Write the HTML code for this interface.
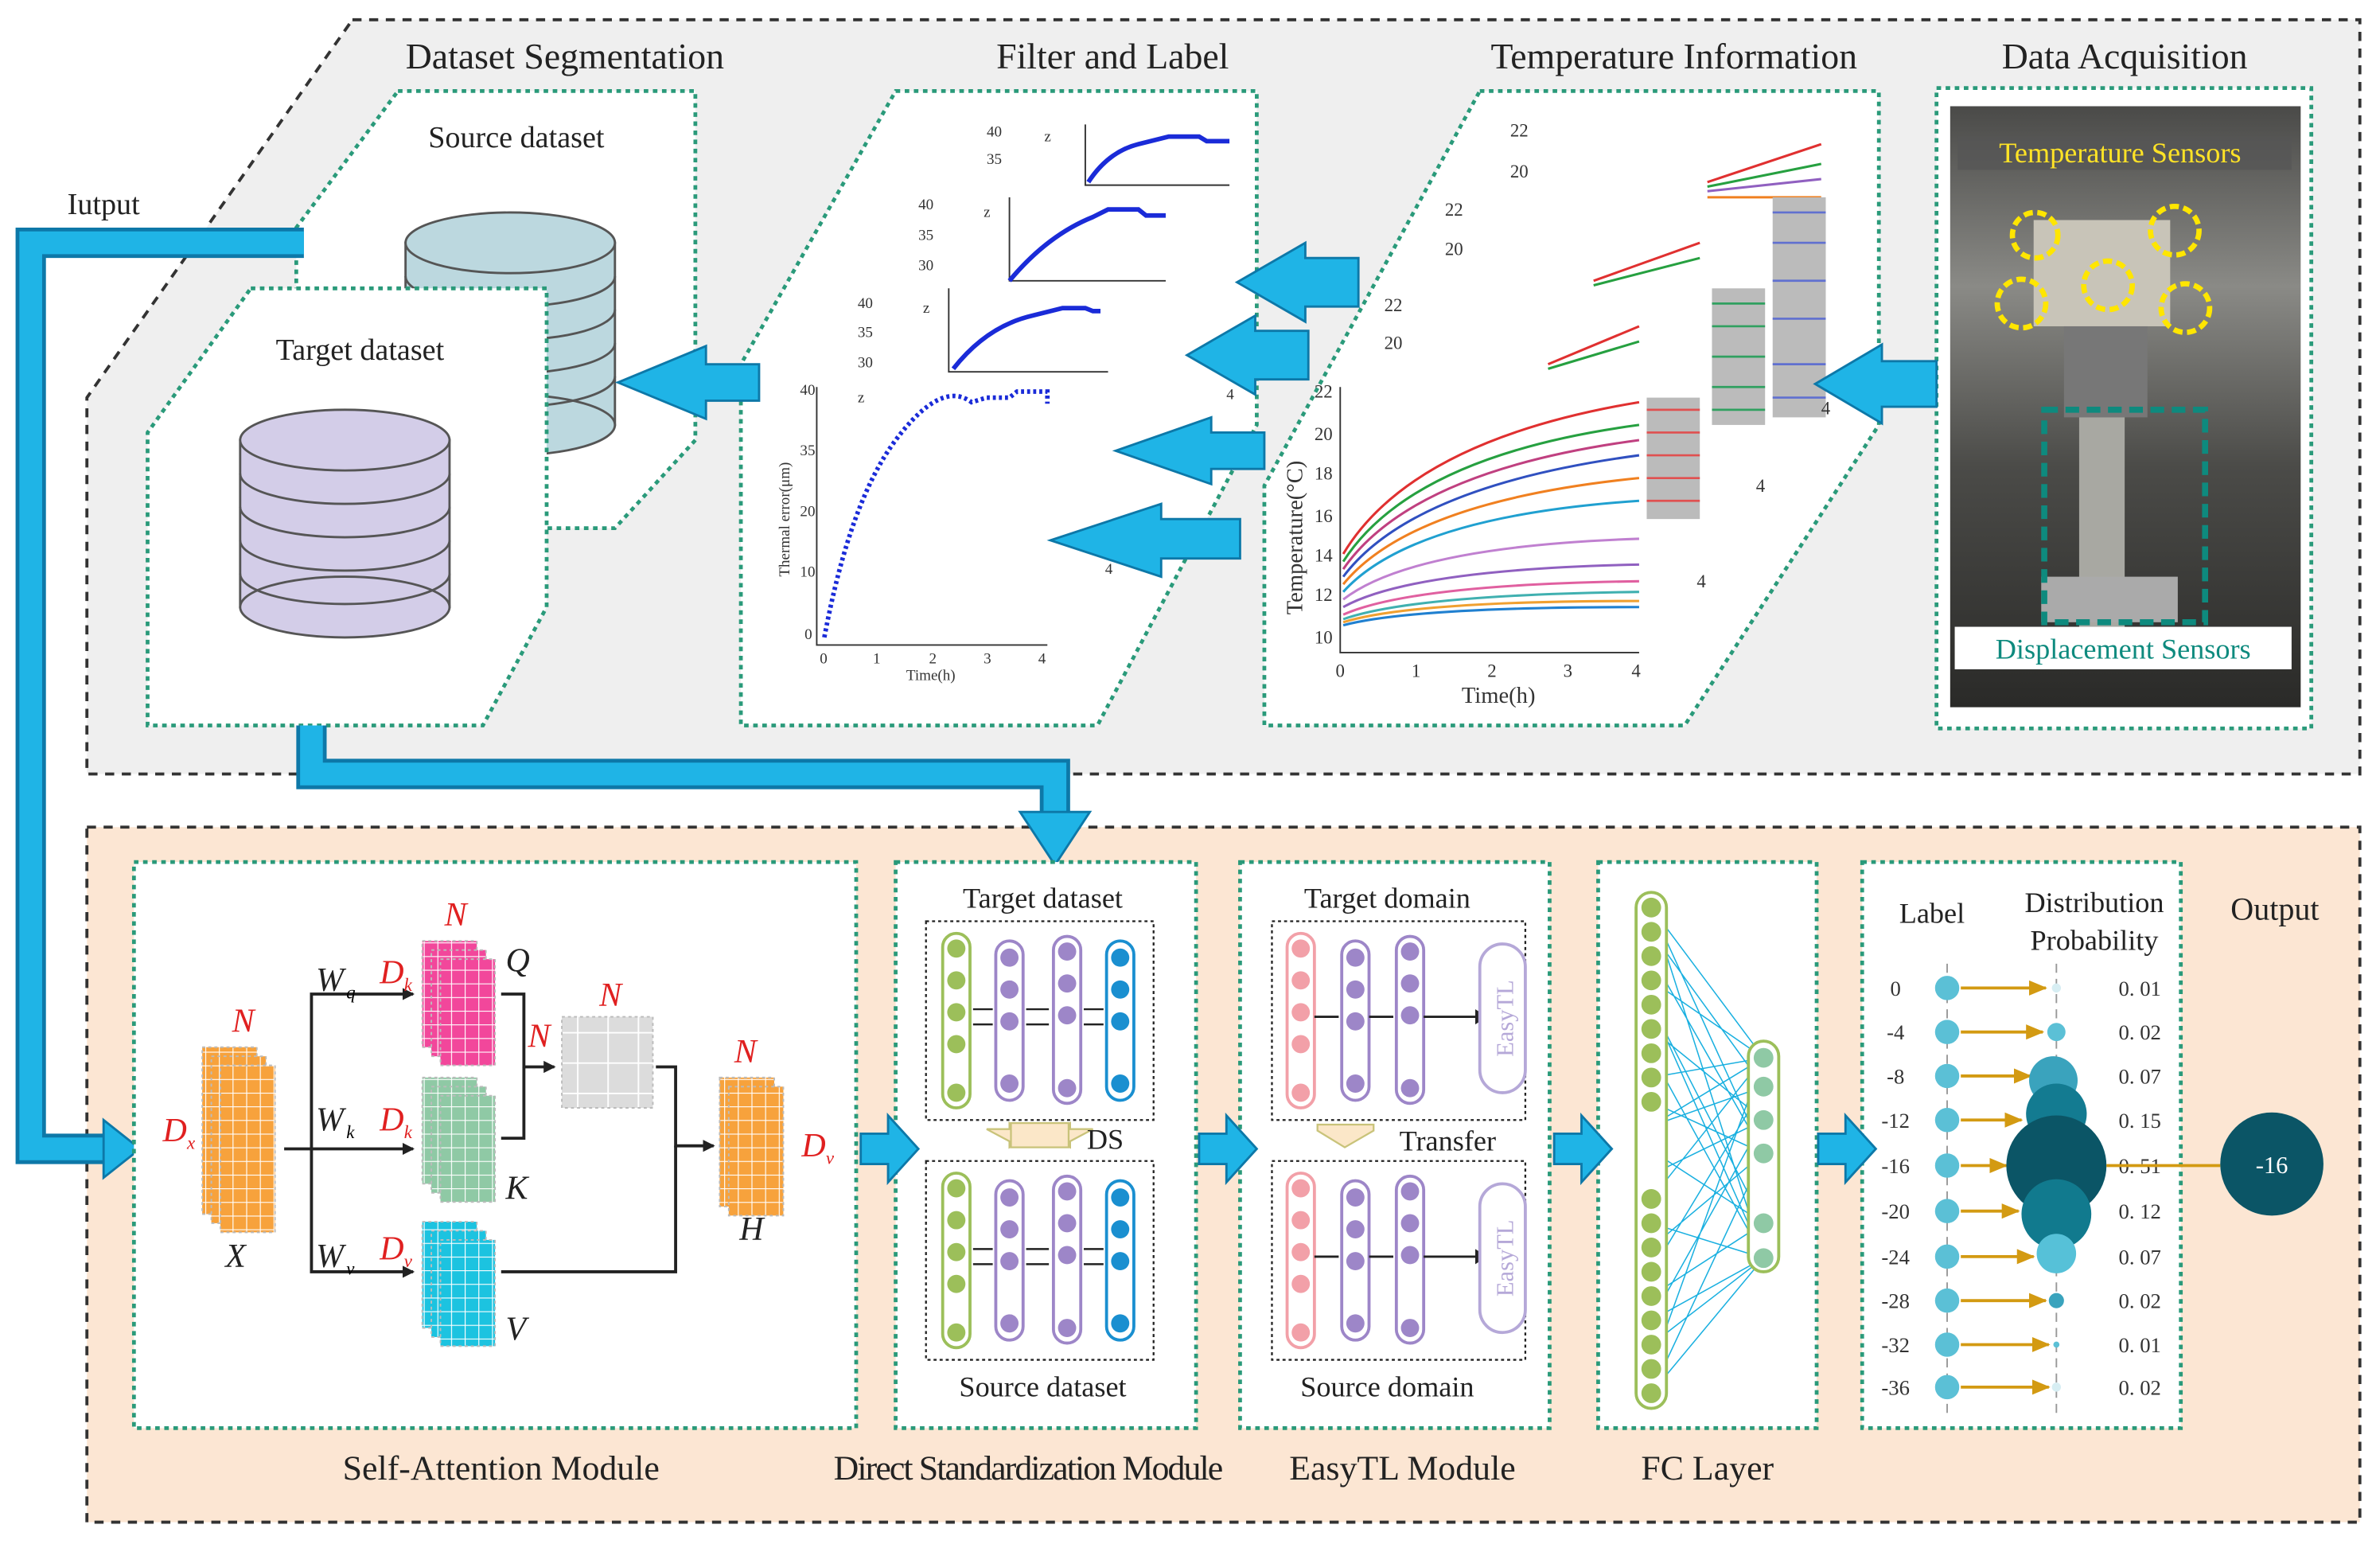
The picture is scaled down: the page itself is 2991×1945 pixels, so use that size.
<!DOCTYPE html>
<html><head><meta charset="utf-8"><style>
html,body{margin:0;padding:0;background:#fff}
svg{display:block;font-family:"Liberation Serif","DejaVu Serif",serif}
svg text{font-family:"Liberation Serif","DejaVu Serif",serif}
</style></head><body>
<svg width="2991" height="1945" viewBox="0 0 1568 1020" xmlns="http://www.w3.org/2000/svg" font-family="Liberation Serif, DejaVu Serif, serif">
<defs>
<pattern id="po" width="9" height="9" patternUnits="userSpaceOnUse"><rect width="9" height="9" fill="#f7a23c"/><path d="M0 0H9M0 0V9" stroke="#fff" stroke-width="1.2"/></pattern>
<pattern id="pp" width="9" height="9" patternUnits="userSpaceOnUse"><rect width="9" height="9" fill="#f2479b"/><path d="M0 0H9M0 0V9" stroke="#fff" stroke-width="1.2"/></pattern>
<pattern id="pg" width="9" height="9" patternUnits="userSpaceOnUse"><rect width="9" height="9" fill="#8fc9a5"/><path d="M0 0H9M0 0V9" stroke="#fff" stroke-width="1.2"/></pattern>
<pattern id="pc" width="9" height="9" patternUnits="userSpaceOnUse"><rect width="9" height="9" fill="#1cc3e0"/><path d="M0 0H9M0 0V9" stroke="#fff" stroke-width="1.2"/></pattern>
<pattern id="pw" width="20" height="20" patternUnits="userSpaceOnUse"><rect width="20" height="20" fill="#dcdcdc"/><path d="M0 0H20M0 0V20" stroke="#fff" stroke-width="2"/></pattern>
<marker id="ah" markerWidth="8" markerHeight="8" refX="7" refY="4" orient="auto" markerUnits="userSpaceOnUse"><path d="M0 0L8 4L0 8z" fill="#222"/></marker>
<marker id="ao" markerWidth="12" markerHeight="10" refX="11" refY="5" orient="auto" markerUnits="userSpaceOnUse"><path d="M0 0L12 5L0 10z" fill="#d39a12"/></marker>
<linearGradient id="ph" x1="0" y1="0" x2="0" y2="1"><stop offset="0" stop-color="#4a4a48"/><stop offset=".3" stop-color="#8a8a86"/><stop offset=".6" stop-color="#4b4b48"/><stop offset="1" stop-color="#2a2a28"/></linearGradient>
</defs>

<path d="M232 13H1555V510H57V262Z" fill="#efefef" stroke="#333" stroke-width="2" stroke-dasharray="6 5"/>
<rect x="57" y="545" width="1498" height="458" fill="#fce6d3" stroke="#333" stroke-width="2" stroke-dasharray="6 5"/>

<text x="372" y="45" font-size="24" text-anchor="middle" fill="#222">Dataset Segmentation</text>
<text x="733" y="45" font-size="24" text-anchor="middle" fill="#222">Filter and Label</text>
<text x="1103" y="45" font-size="24" text-anchor="middle" fill="#222">Temperature Information</text>
<text x="1400" y="45" font-size="24" text-anchor="middle" fill="#222">Data Acquisition</text>
<text x="68" y="141" font-size="20" text-anchor="middle" fill="#222">Iutput</text>

<path d="M262 60H458V290L405 348H195V150Z" fill="#fff" stroke="#2a9a7a" stroke-width="2.5" stroke-dasharray="3 3"/>
<text x="340" y="97" font-size="20" text-anchor="middle" fill="#222">Source dataset</text>
<g fill="#bcd8df" stroke="#555" stroke-width="1.5">
<rect x="267" y="160" width="138" height="120"/>
<ellipse cx="336" cy="280" rx="69" ry="20"/>
<path d="M267 182a69 20 0 0 0 138 0M267 204a69 20 0 0 0 138 0M267 226a69 20 0 0 0 138 0M267 248a69 20 0 0 0 138 0" fill="none"/>
<ellipse cx="336" cy="160" rx="69" ry="20"/>
</g>
<path d="M165 190H360V400L318 478H97V285Z" fill="#fff" stroke="#2a9a7a" stroke-width="2.5" stroke-dasharray="3 3"/>
<text x="237" y="237" font-size="20" text-anchor="middle" fill="#222">Target dataset</text>
<g fill="#d3cde8" stroke="#555" stroke-width="1.5">
<rect x="158" y="290" width="138" height="110"/>
<ellipse cx="227" cy="400" rx="69" ry="20"/>
<path d="M158 312a69 20 0 0 0 138 0M158 334a69 20 0 0 0 138 0M158 356a69 20 0 0 0 138 0M158 378a69 20 0 0 0 138 0" fill="none"/>
<ellipse cx="227" cy="290" rx="69" ry="20"/>
</g>

<path d="M590 60H828V280L723 478H488V240Z" fill="#fff" stroke="#2a9a7a" stroke-width="2.5" stroke-dasharray="3 3"/>
<g stroke="#333" fill="none" stroke-width="1">
<path d="M538 255V425H690"/>
<path d="M625 190V245H730"/>
<path d="M665 130V185H768"/>
<path d="M715 82V122H810"/>
</g>
<path d="M543 420Q560 330 590 290T640 265L650 262 665 262 670 258 690 258 690 266" fill="none" stroke="#1a2bd8" stroke-width="3" stroke-dasharray="2 2"/>
<path d="M628 243Q650 215 680 208L700 203 715 203 720 205 725 205" fill="none" stroke="#1a2bd8" stroke-width="3"/>
<path d="M665 185Q690 155 720 143L730 138 750 138 755 142 768 142" fill="none" stroke="#1a2bd8" stroke-width="3"/>
<path d="M717 120Q730 100 750 95L770 90 790 90 795 93 810 93" fill="none" stroke="#1a2bd8" stroke-width="3"/>
<g font-size="10" fill="#333">
<text x="527" y="260">40</text><text x="527" y="300">35</text><text x="527" y="340">20</text><text x="527" y="380">10</text><text x="530" y="421">0</text>
<text x="540" y="437">0</text><text x="575" y="437">1</text><text x="612" y="437">2</text><text x="648" y="437">3</text><text x="684" y="437">4</text>
<text x="597" y="448">Time(h)</text>
<text x="520" y="380" transform="rotate(-90 520 380)">Thermal error(μm)</text>
<text x="565" y="265">z</text><text x="608" y="206">z</text><text x="648" y="143">z</text><text x="688" y="93">z</text>
<text x="650" y="90">40</text><text x="650" y="108">35</text><text x="605" y="138">40</text><text x="605" y="158">35</text><text x="605" y="178">30</text>
<text x="565" y="203">40</text><text x="565" y="222">35</text><text x="565" y="242">30</text>
<text x="728" y="378">4</text><text x="808" y="263">4</text>
</g>

<path d="M975 60H1238V280L1110 478H833V320Z" fill="#fff" stroke="#2a9a7a" stroke-width="2.5" stroke-dasharray="3 3"/>
<g stroke="#333" fill="none" stroke-width="1">
<path d="M883 255V430H1080"/>
</g>
<g fill="none" stroke-width="1.6">
<path d="M885 365Q930 290 1080 265" stroke="#e03030"/>
<path d="M885 370Q930 300 1080 280" stroke="#26a040"/>
<path d="M885 375Q930 310 1080 290" stroke="#c04080"/>
<path d="M885 380Q930 320 1080 300" stroke="#3050c0"/>
<path d="M885 385Q930 330 1080 315" stroke="#f08020"/>
<path d="M885 390Q930 340 1080 330" stroke="#20a0d0"/>
<path d="M885 395Q930 360 1080 355" stroke="#c080d0"/>
<path d="M885 400Q930 375 1080 372" stroke="#9060c0"/>
<path d="M885 405Q930 385 1080 383" stroke="#e060a0"/>
<path d="M885 408Q930 392 1080 390" stroke="#40b0b0"/>
<path d="M885 410Q930 396 1080 396" stroke="#f0a030"/>
<path d="M885 412Q930 400 1080 400" stroke="#2080d0"/>
<path d="M1020 240L1080 215" stroke="#e03030"/><path d="M1020 243L1080 225" stroke="#26a040"/>
<path d="M1050 185L1120 160" stroke="#e03030"/><path d="M1050 188L1120 170" stroke="#26a040"/>
<path d="M1125 120L1200 95" stroke="#e03030"/><path d="M1125 123L1200 108" stroke="#26a040"/><path d="M1125 126L1200 118" stroke="#9060c0"/><path d="M1125 130L1200 130" stroke="#f08020"/>
</g>
<g fill="#bbb"><rect x="1085" y="262" width="35" height="80"/><rect x="1128" y="190" width="35" height="90"/><rect x="1168" y="130" width="35" height="145"/></g>
<g fill="none" stroke-width="1.4">
<path d="M1085 270H1120M1085 285H1120M1085 300H1120M1085 315H1120M1085 330H1120" stroke="#e05050"/>
<path d="M1128 200H1163M1128 215H1163M1128 235H1163M1128 255H1163M1128 270H1163" stroke="#30a060"/>
<path d="M1168 140H1203M1168 160H1203M1168 185H1203M1168 210H1203M1168 240H1203M1168 262H1203" stroke="#6070d0"/>
</g>
<g font-size="12" fill="#333">
<text x="866" y="262">22</text><text x="866" y="290">20</text><text x="866" y="316">18</text><text x="866" y="344">16</text><text x="866" y="370">14</text><text x="866" y="396">12</text><text x="866" y="424">10</text>
<text x="880" y="446">0</text><text x="930" y="446">1</text><text x="980" y="446">2</text><text x="1030" y="446">3</text><text x="1075" y="446">4</text>
<text x="963" y="463" font-size="15">Time(h)</text>
<text x="858" y="405" font-size="15" transform="rotate(-90 858 405)">Temperature(°C)</text>
<text x="912" y="205">22</text><text x="912" y="230">20</text><text x="952" y="142">22</text><text x="952" y="168">20</text><text x="995" y="90">22</text><text x="995" y="117">20</text>
<text x="1118" y="387">4</text><text x="1157" y="324">4</text><text x="1200" y="273">4</text>
</g>

<rect x="1276" y="58" width="247" height="422" fill="#fff" stroke="#2a9a7a" stroke-width="2.5" stroke-dasharray="3 3"/>
<rect x="1285" y="70" width="231" height="396" fill="url(#ph)"/>
<rect x="1340" y="145" width="90" height="70" fill="#c8c4b8"/>
<rect x="1360" y="215" width="55" height="60" fill="#777"/>
<rect x="1370" y="275" width="30" height="140" fill="#a8a8a2"/>
<rect x="1345" y="380" width="90" height="30" fill="#aaa"/>
<rect x="1290" y="90" width="220" height="22" fill="#555" opacity=".7"/>
<text x="1397" y="107" font-size="19" text-anchor="middle" fill="#ffe326">Temperature Sensors</text>
<g fill="none" stroke="#ffe600" stroke-width="3.5" stroke-dasharray="6 3">
<circle cx="1341" cy="155" r="15"/><circle cx="1433" cy="152" r="16"/><circle cx="1389" cy="188" r="16"/><circle cx="1332" cy="200" r="16"/><circle cx="1440" cy="203" r="16"/>
</g>
<rect x="1347" y="270" width="106" height="140" fill="none" stroke="#0e8a7e" stroke-width="4" stroke-dasharray="9 5"/>
<rect x="1288" y="413" width="222" height="28" fill="#fff"/>
<text x="1399" y="434" font-size="19" text-anchor="middle" fill="#0e8a7e">Displacement Sensors</text>

<g fill="#1fb4e6" stroke="#0d78a8" stroke-width="1.5">
<path d="M1276 238H1240V227L1196 253L1240 279V268H1276Z"/>
<path d="M895 170H860V160L815 186L860 212V202H895Z"/>
<path d="M862 218H827V208L782 234L827 260V250H862Z"/>
<path d="M833 285H798V275L735 297L798 319V309H833Z"/>
<path d="M817 342H765V332L692 356L765 380V368H817Z"/>
<path d="M500 240H465V228L407 252L465 276V264H500Z"/>
</g>

<path d="M200 160H20V757H70" fill="none" stroke="#0d78a8" stroke-width="20"/>
<path d="M200 160H20V757H70" fill="none" stroke="#1fb4e6" stroke-width="15"/>
<path d="M68 738L92 757L68 776Z" fill="#1fb4e6" stroke="#0d78a8" stroke-width="1.5"/>
<path d="M205 478V510H695V540" fill="none" stroke="#0d78a8" stroke-width="20"/>
<path d="M205 478V510H695V540" fill="none" stroke="#1fb4e6" stroke-width="15"/>
<path d="M672 535L695 570L718 535Z" fill="#1fb4e6" stroke="#0d78a8" stroke-width="1.5"/>

<g fill="#fff" stroke="#2a9a7a" stroke-width="2.5" stroke-dasharray="3 3">
<rect x="88" y="568" width="476" height="373"/>
<rect x="590" y="568" width="198" height="373"/>
<rect x="817" y="568" width="204" height="373"/>
<rect x="1053" y="568" width="144" height="373"/>
<rect x="1227" y="568" width="210" height="373"/>
</g>
<g font-size="23" fill="#222" text-anchor="middle">
<text x="330" y="975">Self-Attention Module</text>
<text x="677" y="975" letter-spacing="-1">Direct Standardization Module</text>
<text x="924" y="975">EasyTL Module</text>
<text x="1125" y="975">FC Layer</text>
</g>

<g stroke="#bbb" stroke-dasharray="2 2">
<rect x="133" y="690" width="36" height="110" fill="url(#po)"/>
<rect x="139" y="696" width="36" height="110" fill="url(#po)"/>
<rect x="145" y="702" width="36" height="110" fill="url(#po)"/>
<rect x="278" y="620" width="36" height="70" fill="url(#pp)"/>
<rect x="284" y="626" width="36" height="70" fill="url(#pp)"/>
<rect x="290" y="632" width="36" height="70" fill="url(#pp)"/>
<rect x="278" y="710" width="36" height="70" fill="url(#pg)"/>
<rect x="284" y="716" width="36" height="70" fill="url(#pg)"/>
<rect x="290" y="722" width="36" height="70" fill="url(#pg)"/>
<rect x="278" y="805" width="36" height="70" fill="url(#pc)"/>
<rect x="284" y="811" width="36" height="70" fill="url(#pc)"/>
<rect x="290" y="817" width="36" height="70" fill="url(#pc)"/>
<rect x="370" y="670" width="60" height="60" fill="url(#pw)"/>
<rect x="474" y="710" width="36" height="85" fill="url(#po)"/>
<rect x="480" y="716" width="36" height="85" fill="url(#po)"/>
</g>
<g fill="none" stroke="#222" stroke-width="2">
<path d="M187 757H205V655H272" marker-end="url(#ah)"/>
<path d="M205 757H272" marker-end="url(#ah)"/>
<path d="M205 757V838H272" marker-end="url(#ah)"/>
<path d="M330 655H345V703H365" marker-end="url(#ah)"/>
<path d="M330 750H345V703"/>
<path d="M432 703H445V755H470" marker-end="url(#ah)"/>
<path d="M330 838H445V755"/>
</g>
<g font-style="italic" font-size="22">
<text x="160" y="680" fill="#e02020" text-anchor="middle">N</text>
<text x="107" y="752" fill="#e02020">D</text><text x="123" y="757" fill="#e02020" font-size="12">x</text>
<text x="155" y="835" text-anchor="middle" fill="#222">X</text>
<text x="300" y="610" fill="#e02020" text-anchor="middle">N</text>
<text x="250" y="648" fill="#e02020">D</text><text x="266" y="653" fill="#e02020" font-size="12">k</text>
<text x="333" y="640" fill="#222">Q</text>
<text x="208" y="653" fill="#222">W</text><text x="228" y="658" font-size="12">q</text>
<text x="250" y="745" fill="#e02020">D</text><text x="266" y="750" fill="#e02020" font-size="12">k</text>
<text x="208" y="745" fill="#222">W</text><text x="228" y="750" font-size="12">k</text>
<text x="333" y="790" fill="#222">K</text>
<text x="250" y="830" fill="#e02020">D</text><text x="266" y="835" fill="#e02020" font-size="12">v</text>
<text x="208" y="835" fill="#222">W</text><text x="228" y="840" font-size="12">v</text>
<text x="333" y="883" fill="#222">V</text>
<text x="355" y="690" fill="#e02020" text-anchor="middle">N</text>
<text x="402" y="663" fill="#e02020" text-anchor="middle">N</text>
<text x="491" y="700" fill="#e02020" text-anchor="middle">N</text>
<text x="528" y="762" fill="#e02020">D</text><text x="544" y="767" fill="#e02020" font-size="12">v</text>
<text x="495" y="817" fill="#222" text-anchor="middle">H</text>
</g>

<g fill="#1fb4e6" stroke="#0d78a8" stroke-width="1.5">
<path d="M567 747H585V735L605 757L585 779V767H567Z"/>
<path d="M790 747H808V735L828 757L808 779V767H790Z"/>
<path d="M1024 747H1042V735L1062 757L1042 779V767H1024Z"/>
<path d="M1198 747H1216V735L1236 757L1216 779V767H1198Z"/>
</g>

<text x="687" y="598" font-size="19" text-anchor="middle" fill="#222">Target dataset</text>
<text x="687" y="920" font-size="19" text-anchor="middle" fill="#222">Source dataset</text>
<g fill="none" stroke="#222" stroke-width="1.2" stroke-dasharray="2 2">
<rect x="610" y="607" width="150" height="131"/><rect x="610" y="765" width="150" height="131"/>
<rect x="838" y="607" width="167" height="131"/><rect x="838" y="765" width="167" height="131"/>
</g>
<g id="dscols">
<rect x="621" y="615" width="18" height="115" rx="9" fill="#fff" stroke="#9cbf5a" stroke-width="2"/>
<rect x="656" y="620" width="18" height="105" rx="9" fill="#fff" stroke="#9d86c8" stroke-width="2"/>
<rect x="694" y="617" width="18" height="110" rx="9" fill="#fff" stroke="#9d86c8" stroke-width="2"/>
<rect x="729" y="620" width="18" height="105" rx="9" fill="#fff" stroke="#1a8fd0" stroke-width="2"/>
<g fill="#9cbf5a"><circle cx="630" cy="625" r="6"/><circle cx="630" cy="646" r="6"/><circle cx="630" cy="667" r="6"/><circle cx="630" cy="688" r="6"/><circle cx="630" cy="720" r="6"/></g>
<g fill="#9d86c8"><circle cx="665" cy="631" r="6"/><circle cx="665" cy="652" r="6"/><circle cx="665" cy="673" r="6"/><circle cx="665" cy="714" r="6"/><circle cx="703" cy="627" r="6"/><circle cx="703" cy="648" r="6"/><circle cx="703" cy="669" r="6"/><circle cx="703" cy="717" r="6"/></g>
<g fill="#1a8fd0"><circle cx="738" cy="631" r="6"/><circle cx="738" cy="652" r="6"/><circle cx="738" cy="673" r="6"/><circle cx="738" cy="714" r="6"/></g>
<g stroke="#222" stroke-width="1.3"><path d="M641 665H654M654 675H641M676 665H691M691 675H676M714 665H727M727 675H714"/></g>
</g>
<use href="#dscols" y="158"/>
<path d="M650 744H665V740L680 748L665 756V752Z M720 744H705V740L690 748L705 756V752Z" fill="#fbe7c8" stroke="#c9c37a" stroke-width="1.2"/>
<rect x="666" y="740" width="38" height="16" fill="#fbe7c8" stroke="#c9c37a" stroke-width="1.2"/>
<text x="716" y="757" font-size="19" fill="#222">DS</text>

<text x="914" y="598" font-size="19" text-anchor="middle" fill="#222">Target domain</text>
<text x="914" y="920" font-size="19" text-anchor="middle" fill="#222">Source domain</text>
<g id="etl">
<rect x="848" y="615" width="18" height="115" rx="9" fill="#fff" stroke="#f2a0a8" stroke-width="2"/>
<rect x="884" y="620" width="18" height="105" rx="9" fill="#fff" stroke="#9d86c8" stroke-width="2"/>
<rect x="920" y="617" width="18" height="110" rx="9" fill="#fff" stroke="#9d86c8" stroke-width="2"/>
<g fill="#f2a0a8"><circle cx="857" cy="625" r="6"/><circle cx="857" cy="646" r="6"/><circle cx="857" cy="667" r="6"/><circle cx="857" cy="688" r="6"/><circle cx="857" cy="720" r="6"/></g>
<g fill="#9d86c8"><circle cx="893" cy="631" r="6"/><circle cx="893" cy="652" r="6"/><circle cx="893" cy="673" r="6"/><circle cx="893" cy="714" r="6"/><circle cx="929" cy="627" r="6"/><circle cx="929" cy="648" r="6"/><circle cx="929" cy="669" r="6"/><circle cx="929" cy="717" r="6"/></g>
<path d="M866 670H882M902 670H918M938 670H972" stroke="#222" stroke-width="1.5"/>
<path d="M972 665L980 670L972 675Z" fill="#222"/>
<rect x="975" y="622" width="30" height="98" rx="15" fill="#fff" stroke="#b5a8d8" stroke-width="2"/>
<text x="997" y="671" font-size="16" fill="#b5a8d8" text-anchor="middle" transform="rotate(-90 997 671)">EasyTL</text>
</g>
<use href="#etl" y="158"/>
<path d="M868 741H905V745L886 756L868 745Z" fill="#fbe7c8" stroke="#c9c37a" stroke-width="1.2"/>
<text x="922" y="758" font-size="19" fill="#222">Transfer</text>

<g stroke="#1ab0e0" stroke-width=".8">
<path d="M1088 598L1162 697M1088 598L1162 829M1088 614L1162 716M1088 630L1162 760M1088 646L1162 697M1088 662L1162 806M1088 678L1162 738M1088 694L1162 829M1088 710L1162 697M1088 726L1162 760M1088 742L1162 716M1088 758L1162 806M1088 774L1162 738M1088 790L1162 697M1088 806L1162 829M1088 822L1162 760M1088 838L1162 716M1088 854L1162 806M1088 870L1162 738M1088 886L1162 829M1088 902L1162 697M1088 918L1162 760M1088 918L1162 829M1088 598L1162 760M1088 662L1162 829M1088 742L1162 697M1088 870L1162 829"/>
</g>
<rect x="1078" y="588" width="20" height="340" rx="10" fill="#fff" stroke="#9cbf5a" stroke-width="2"/>
<g fill="#9cbf5a">
<circle cx="1088" cy="598" r="6.5"/><circle cx="1088" cy="614" r="6.5"/><circle cx="1088" cy="630" r="6.5"/><circle cx="1088" cy="646" r="6.5"/><circle cx="1088" cy="662" r="6.5"/><circle cx="1088" cy="678" r="6.5"/><circle cx="1088" cy="694" r="6.5"/><circle cx="1088" cy="710" r="6.5"/><circle cx="1088" cy="726" r="6.5"/><circle cx="1088" cy="790" r="6.5"/><circle cx="1088" cy="806" r="6.5"/><circle cx="1088" cy="822" r="6.5"/><circle cx="1088" cy="838" r="6.5"/><circle cx="1088" cy="854" r="6.5"/><circle cx="1088" cy="870" r="6.5"/><circle cx="1088" cy="886" r="6.5"/><circle cx="1088" cy="902" r="6.5"/><circle cx="1088" cy="918" r="6.5"/>
</g>
<rect x="1152" y="686" width="20" height="152" rx="10" fill="#fff" stroke="#9cbf5a" stroke-width="2"/>
<g fill="#8fc9a5"><circle cx="1162" cy="697" r="6.5"/><circle cx="1162" cy="716" r="6.5"/><circle cx="1162" cy="738" r="6.5"/><circle cx="1162" cy="760" r="6.5"/><circle cx="1162" cy="806" r="6.5"/><circle cx="1162" cy="829" r="6.5"/></g>

<text x="1273" y="608" font-size="19" text-anchor="middle" fill="#222">Label</text>
<text x="1380" y="601" font-size="19" text-anchor="middle" fill="#222">Distribution</text>
<text x="1380" y="626" font-size="19" text-anchor="middle" fill="#222">Probability</text>
<text x="1499" y="606" font-size="21" text-anchor="middle" fill="#222">Output</text>
<path d="M1283 635V935M1355 635V935" stroke="#999" stroke-dasharray="6 4"/>
<g font-size="14" fill="#333" text-anchor="middle">
<text x="1249" y="656">0</text><text x="1249" y="685">-4</text><text x="1249" y="714">-8</text><text x="1249" y="743">-12</text><text x="1249" y="773">-16</text><text x="1249" y="803">-20</text><text x="1249" y="833">-24</text><text x="1249" y="862">-28</text><text x="1249" y="891">-32</text><text x="1249" y="919">-36</text>
<text x="1410" y="656">0. 01</text><text x="1410" y="685">0. 02</text><text x="1410" y="714">0. 07</text><text x="1410" y="743">0. 15</text><text x="1410" y="773">0. 51</text><text x="1410" y="803">0. 12</text><text x="1410" y="833">0. 07</text><text x="1410" y="862">0. 02</text><text x="1410" y="891">0. 01</text><text x="1410" y="919">0. 02</text>
</g>
<g fill="#5bc0d6"><circle cx="1283" cy="651" r="8"/><circle cx="1283" cy="680" r="8"/><circle cx="1283" cy="709" r="8"/><circle cx="1283" cy="738" r="8"/><circle cx="1283" cy="768" r="8"/><circle cx="1283" cy="798" r="8"/><circle cx="1283" cy="828" r="8"/><circle cx="1283" cy="857" r="8"/><circle cx="1283" cy="886" r="8"/><circle cx="1283" cy="914" r="8"/></g>
<g stroke="#d39a12" stroke-width="2" marker-end="url(#ao)">
<path d="M1292 651H1348"/><path d="M1292 680H1346"/><path d="M1292 709H1338"/><path d="M1292 738H1332"/><path d="M1292 768H1322"/><path d="M1292 798H1330"/><path d="M1292 828H1340"/><path d="M1292 857H1348"/><path d="M1292 886H1350"/><path d="M1292 914H1350"/>
</g>
<circle cx="1355" cy="651" r="3" fill="#d7eef3"/>
<circle cx="1355" cy="680" r="6" fill="#5bc0d6"/>
<circle cx="1353" cy="712" r="16" fill="#3aa3bd"/>
<circle cx="1355" cy="734" r="20" fill="#137b91"/>
<circle cx="1355" cy="768" r="33" fill="#0b5566"/>
<circle cx="1355" cy="800" r="23" fill="#117a8e"/>
<circle cx="1355" cy="826" r="13" fill="#56c1d8"/>
<circle cx="1355" cy="857" r="5" fill="#3aa3bd"/>
<circle cx="1355" cy="886" r="2" fill="#5bc0d6"/>
<circle cx="1355" cy="914" r="3" fill="#d7eef3"/>
<path d="M1388 768H1463" stroke="#d39a12" stroke-width="2"/>
<circle cx="1497" cy="767" r="34" fill="#0b5566"/>
<text x="1497" y="773" font-size="16" fill="#fff" text-anchor="middle">-16</text>
</svg>
</body></html>
